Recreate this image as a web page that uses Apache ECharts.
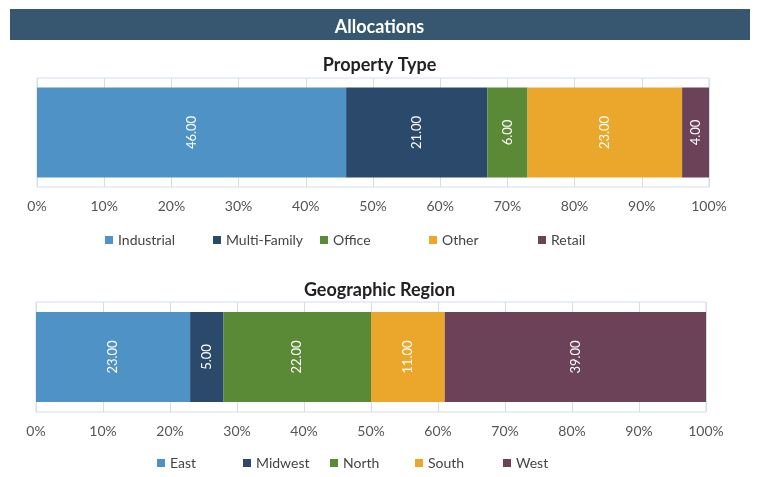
<!DOCTYPE html>
<html>
<head>
<meta charset="utf-8">
<script src="https://cdn.jsdelivr.net/npm/echarts@6/dist/echarts.min.js"></script>
<style>
  html, body { margin: 0; padding: 0; background: #fff; }
  #chart { width: 759px; height: 477px; }
</style>
</head>
<body>
<div id="chart"></div>
<script>
// values
const propertyTypes = ['Industrial', 'Multi-Family', 'Office', 'Other', 'Retail'];
const propertyValues = [46, 21, 6, 23, 4];
const regions = ['East', 'Midwest', 'North', 'South', 'West'];
const regionValues = [23, 5, 22, 11, 39];
const palette = ['#4e92c6', '#2b4a6b', '#5b8a36', '#eba72b', '#6b4257'];

// legend item x positions (the original spacing is uneven)
const propertyLegendX = [105, 213, 320, 429, 538];
const regionLegendX = [157, 243, 330, 415, 503];

const font = 'Lato, "Open Sans", sans-serif';

const chart = echarts.init(document.getElementById('chart'));

function makeSeries(names, values, idx) {
    return names.map((n, i) => ({
        name: n,
        type: 'bar',
        stack: 'total' + idx,
        xAxisIndex: idx,
        yAxisIndex: idx,
        barWidth: 90,
        itemStyle: { color: palette[i] },
        label: {
            show: true,
            position: 'inside',
            rotate: 90,
            color: '#fff',
            fontSize: 13,
            fontFamily: font,
            formatter: (p) => p.value.toFixed(2)
        },
        data: [values[i]]
    }));
}

function makeLegends(names, xs, top) {
    return names.map((n, i) => ({
        data: [n],
        left: xs[i],
        top: top,
        padding: 0,
        icon: 'rect',
        itemWidth: 8,
        itemHeight: 8,
        itemGap: 5,
        textStyle: { color: '#444', fontSize: 14, fontFamily: font }
    }));
}

const xAxisBase = {
    type: 'value',
    min: 0,
    max: 100,
    interval: 10,
    axisLine: { show: false },
    axisTick: { show: false },
    splitLine: { show: true, lineStyle: { color: '#d3deea', width: 1 } },
    axisLabel: { formatter: '{value}%', color: '#555', fontSize: 14, fontFamily: font, margin: 12 }
};

const yAxisBase = {
    type: 'category',
    data: [''],
    axisLine: { show: false },
    axisTick: { show: false },
    axisLabel: { show: false }
};

const option = {
    animation: false,
    graphic: [{
        type: 'rect',
        shape: { x: 10, y: 9, width: 740, height: 31 },
        style: { fill: '#37566f' }
    }],
    title: [
        { text: 'Allocations', left: 'center', top: 13, textStyle: { color: '#fff', fontSize: 18, fontWeight: 'bold', fontFamily: font } },
        { text: 'Property Type', left: 'center', top: 51, textStyle: { color: '#222', fontSize: 18, fontWeight: 'bold', fontFamily: font } },
        { text: 'Geographic Region', left: 'center', top: 276, textStyle: { color: '#222', fontSize: 18, fontWeight: 'bold', fontFamily: font } }
    ],
    grid: [
        { left: 37, top: 78, width: 672, height: 109, show: true, borderColor: '#d3deea', borderWidth: 1 },
        { left: 36, top: 302, width: 670, height: 110, show: true, borderColor: '#d3deea', borderWidth: 1 }
    ],
    xAxis: [
        Object.assign({ gridIndex: 0 }, xAxisBase),
        Object.assign({ gridIndex: 1 }, xAxisBase)
    ],
    yAxis: [
        Object.assign({ gridIndex: 0 }, yAxisBase),
        Object.assign({ gridIndex: 1 }, yAxisBase)
    ],
    legend: makeLegends(propertyTypes, propertyLegendX, 233).concat(makeLegends(regions, regionLegendX, 456)),
    series: makeSeries(propertyTypes, propertyValues, 0).concat(makeSeries(regions, regionValues, 1))
};

chart.setOption(option);
</script>
</body>
</html>
